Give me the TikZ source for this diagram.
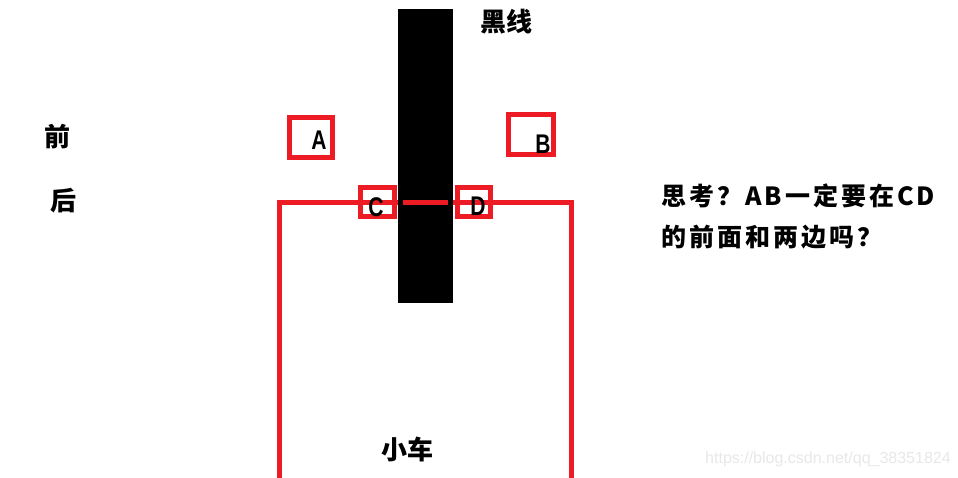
\documentclass[tikz,border=0pt]{standalone}
\usepackage{fontspec}
\newfontfamily\cjk{Noto Sans CJK SC}
\newfontfamily\cjkls[LetterSpace=12]{Noto Sans CJK SC}
\newfontfamily\latn[FakeStretch=0.78]{Liberation Sans}
\newfontfamily\wm{Liberation Sans}
\definecolor{pred}{HTML}{ED1C24}
\definecolor{wmgray}{HTML}{E8E8E8}
\begin{document}
\begin{tikzpicture}[x=1pt,y=-1pt,
  redbox/.style={draw=pred,line width=5pt},
  redline/.style={draw=pred,line width=5pt},
  letter/.style={font=\latn\bfseries\fontsize{27}{27}\selectfont,inner sep=0pt},
  zh/.style={font=\cjk\bfseries\fontsize{26}{26}\selectfont,inner sep=0pt},
  note/.style={font=\cjkls\bfseries\fontsize{25}{25}\selectfont,inner sep=0pt,anchor=west}]
\useasboundingbox (0,0) rectangle (958,478);
\fill[white] (0,0) rectangle (958,478);
% black line
\fill[black] (398,9) rectangle (453,303);
% car outline
\coordinate (cl) at (279,478);
\coordinate (ctl) at (279,203);
\coordinate (ctr) at (571,203);
\coordinate (cr) at (571,478);
\draw[redline] (cl) -- (ctl) -- (398,203);
\draw[redline] (403,203) -- (448,203);
\draw[redline] (453,203) -- (ctr) -- (cr);
% boxes
\draw[redbox] (289.5,117.5) rectangle (332.5,157.5);
\draw[redbox] (508.5,114.5) rectangle (553.5,154.5);
\draw[redbox] (360.5,187.5) rectangle (394.5,216.5);
\draw[redbox] (457.5,187.5) rectangle (490.5,216.5);
\node[letter] (A) at (319,140) {A};
\node[letter] (B) at (543,144) {B};
\node[letter] (C) at (376,207) {C};
\node[letter] (D) at (478,206) {D};
% labels
\node[zh] (hx) at (506,22) {黑线};
\node[zh] (qian) at (57,137) {前};
\node[zh] (hou) at (63,201) {后};
\node[zh] (car) at (407,449) {小车};
\node[note] (n1) at (661,196) {思考？AB一定要在CD};
\node[note] (n2) at (661,237) {的前面和两边吗？};
\node[font=\wm\fontsize{16}{16}\selectfont,text=wmgray,inner sep=0pt,anchor=west] (wmk) at (705,459) {https://blog.csdn.net/qq\_38351824};
\end{tikzpicture}
\end{document}
